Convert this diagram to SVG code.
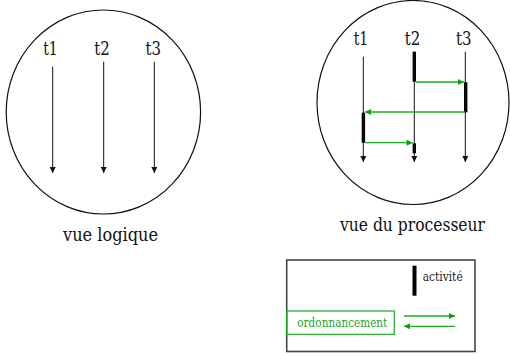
<svg xmlns="http://www.w3.org/2000/svg" width="510" height="354" viewBox="0 0 510 354">
<defs>
<style>
text{font-family:'DejaVu Serif Condensed','DejaVu Serif',serif;font-stretch:condensed}
.lbl{font-size:18.5px;fill:#111}
.small{font-size:12.5px}
.circ{fill:none;stroke:#111;stroke-width:1.2}
.thr{stroke:#111;stroke-width:1;fill:none}
.bar{fill:#000}
.sched{stroke:#1aad1a;stroke-width:1.3;fill:none}
</style>
<marker id="ah" viewBox="0 0 10 10" refX="10" refY="5" markerUnits="userSpaceOnUse" markerWidth="6" markerHeight="7" orient="auto">
<path d="M0,0 L10,5 L0,10 z" fill="#111"/>
</marker>
<marker id="ag" viewBox="0 0 10 10" refX="10" refY="5" markerUnits="userSpaceOnUse" markerWidth="7" markerHeight="6" orient="auto">
<path d="M0,0 L10,5 L0,10 z" fill="#0aa00a"/>
</marker>
</defs>
<rect width="510" height="354" fill="#fff"/>

<g id="vue-logique">
<ellipse class="circ" cx="103.4" cy="112" rx="97.2" ry="102"/>
<text class="lbl" x="50.5" y="55" text-anchor="middle" textLength="14.5" lengthAdjust="spacingAndGlyphs">t1</text>
<text class="lbl" x="102" y="55" text-anchor="middle" textLength="15.5" lengthAdjust="spacingAndGlyphs">t2</text>
<text class="lbl" x="153.3" y="55" text-anchor="middle" textLength="15.5" lengthAdjust="spacingAndGlyphs">t3</text>
<text class="lbl" x="110.5" y="241" text-anchor="middle" textLength="95" lengthAdjust="spacingAndGlyphs">vue logique</text>
</g>

<g id="vue-processeur">
<ellipse class="circ" cx="413" cy="102.5" rx="96" ry="102"/>
<text class="lbl" x="361" y="45" text-anchor="middle" textLength="14.5" lengthAdjust="spacingAndGlyphs">t1</text>
<text class="lbl" x="412.5" y="45" text-anchor="middle" textLength="15.5" lengthAdjust="spacingAndGlyphs">t2</text>
<text class="lbl" x="463.7" y="45" text-anchor="middle" textLength="15.5" lengthAdjust="spacingAndGlyphs">t3</text>
<text class="lbl" x="412.5" y="231" text-anchor="middle" textLength="145" lengthAdjust="spacingAndGlyphs">vue du processeur</text>
<rect class="bar" x="412.6" y="51.7" width="3.4" height="30"/>
<rect class="bar" x="464" y="82.3" width="3.4" height="30"/>
<rect class="bar" x="361.7" y="112.7" width="3.4" height="30"/>
<rect class="bar" x="412.6" y="143.3" width="3.4" height="10"/>
</g>

<g id="legende">
<rect x="286.7" y="260" width="188.3" height="91.5" fill="none" stroke="#444" stroke-width="1.6"/>
<rect class="bar" x="412.5" y="265.7" width="4" height="30"/>
<text class="small" x="422.7" y="281" fill="#222" textLength="40" lengthAdjust="spacingAndGlyphs">activité</text>
<rect x="286.7" y="311" width="107.6" height="23.3" fill="none" stroke="#1aad1a" stroke-width="1.2"/>
<text class="small" x="297.3" y="327.3" fill="#2aa62a" textLength="90" lengthAdjust="spacingAndGlyphs">ordonnancement</text>
</g>

<g id="connecteurs">
<line class="thr" x1="52.7" y1="66.7" x2="52.7" y2="173" marker-end="url(#ah)"/>
<line class="thr" x1="103.7" y1="61.7" x2="103.7" y2="173" marker-end="url(#ah)"/>
<line class="thr" x1="154.3" y1="61.7" x2="154.3" y2="173" marker-end="url(#ah)"/>
<line class="thr" x1="363.3" y1="56.7" x2="363.3" y2="162" marker-end="url(#ah)"/>
<line class="thr" x1="414.3" y1="51.7" x2="414.3" y2="162" marker-end="url(#ah)"/>
<line class="thr" x1="465.3" y1="51.7" x2="465.3" y2="162" marker-end="url(#ah)"/>
<line class="sched" x1="416" y1="82" x2="464" y2="82" marker-end="url(#ag)"/>
<line class="sched" x1="465" y1="112" x2="365" y2="112" marker-end="url(#ag)"/>
<line class="sched" x1="365" y1="142.7" x2="412.6" y2="142.7" marker-end="url(#ag)"/>
<line class="sched" x1="404" y1="316" x2="455" y2="316" marker-end="url(#ag)"/>
<line class="sched" x1="455" y1="326.3" x2="404" y2="326.3" marker-end="url(#ag)"/>
</g>
</svg>
